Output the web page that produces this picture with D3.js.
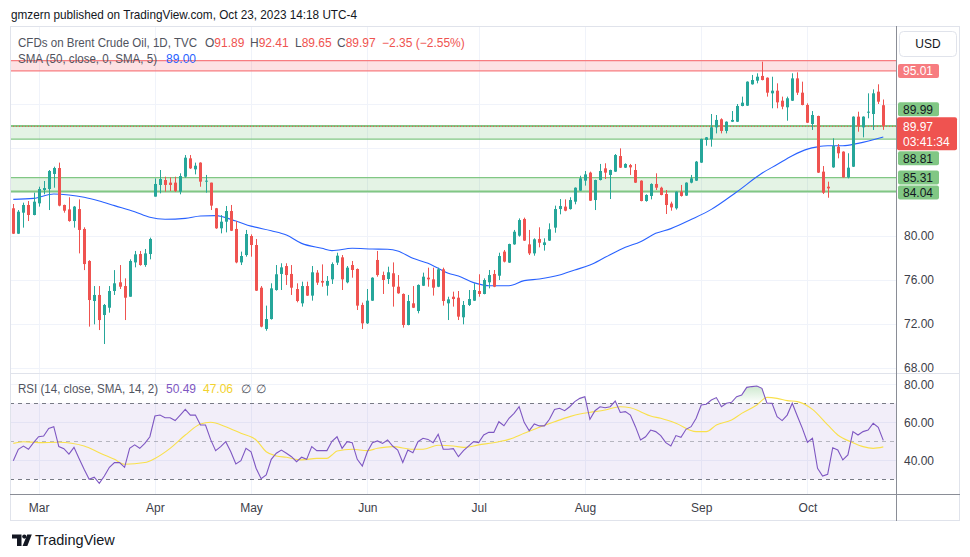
<!DOCTYPE html>
<html>
<head>
<meta charset="utf-8">
<script src="https://cdnjs.cloudflare.com/ajax/libs/d3/7.8.5/d3.min.js"></script>
<style>
  body { margin: 0; background: #fff; }
  svg { display: block; font-family: "Liberation Sans", Arial, sans-serif; }
</style>
</head>
<body>
<script>
// trading days on screen (2023), MM-DD
const dates = [
  "02-22","02-23","02-24","02-27","02-28",
  "03-01","03-02","03-03","03-06","03-07","03-08","03-09","03-10","03-13","03-14","03-15","03-16","03-17","03-20","03-21","03-22","03-23","03-24","03-27","03-28","03-29","03-30","03-31",
  "04-03","04-04","04-05","04-06","04-10","04-11","04-12","04-13","04-14","04-17","04-18","04-19","04-20","04-21","04-24","04-25","04-26","04-27","04-28",
  "05-01","05-02","05-03","05-04","05-05","05-08","05-09","05-10","05-11","05-12","05-15","05-16","05-17","05-18","05-19","05-22","05-23","05-24","05-25","05-26","05-29","05-30","05-31",
  "06-01","06-02","06-05","06-06","06-07","06-08","06-09","06-12","06-13","06-14","06-15","06-16","06-19","06-20","06-21","06-22","06-23","06-26","06-27","06-28","06-29","06-30",
  "07-03","07-04","07-05","07-06","07-07","07-10","07-11","07-12","07-13","07-14","07-17","07-18","07-19","07-20","07-21","07-24","07-25","07-26","07-27","07-28","07-31",
  "08-01","08-02","08-03","08-04","08-07","08-08","08-09","08-10","08-11","08-14","08-15","08-16","08-17","08-18","08-21","08-22","08-23","08-24","08-25","08-28","08-29","08-30","08-31",
  "09-01","09-04","09-05","09-06","09-07","09-08","09-11","09-12","09-13","09-14","09-15","09-18","09-19","09-20","09-21","09-22","09-25","09-26","09-27","09-28","09-29",
  "10-02","10-03","10-04","10-05","10-06","10-09","10-10","10-11","10-12","10-13","10-16","10-17","10-18","10-19","10-20","10-23"
];

const open = [
  82.52,80.21,82.12,82.82,81.91,
  82.97,84.18,84.27,85.64,86.18,82.82,82.42,81.36,82.45,80.64,77.73,74.09,74.64,72.82,73.48,75.00,75.79,75.45,74.48,77.60,78.36,77.36,78.36,
  83.58,84.64,85.09,84.85,84.85,84.03,85.39,87.06,86.06,86.67,84.94,84.85,82.52,80.70,81.30,82.27,80.64,77.60,78.27,
  80.00,79.18,75.30,71.55,72.45,75.09,76.55,77.27,76.55,75.18,73.88,75.45,74.58,76.67,75.91,75.48,76.06,77.58,78.06,75.79,77.36,77.00,73.73,
  72.06,74.12,77.82,76.45,76.09,76.61,75.39,74.73,71.91,73.88,73.18,75.48,76.21,76.06,75.39,76.97,73.88,74.48,74.39,72.61,73.73,74.12,
  75.00,74.73,75.79,76.55,76.39,78.58,77.58,79.24,80.03,81.55,79.24,78.42,79.73,79.18,79.58,80.76,82.45,82.67,82.45,83.12,84.12,
  85.03,85.76,83.27,85.09,86.15,85.55,85.85,87.27,86.21,86.45,86.00,85.03,83.18,83.64,84.73,84.39,83.82,82.95,82.52,84.03,83.67,84.85,85.03,
  86.67,88.73,88.79,89.88,90.61,89.55,90.39,90.39,91.82,91.85,93.79,94.12,94.55,94.39,92.97,93.21,92.30,91.70,92.30,94.33,93.03,
  91.91,90.18,90.91,85.85,84.48,86.24,88.12,87.67,85.33,86.30,90.85,89.88,91.21,91.09,93.12,91.89
];
const high = [
  82.91,82.36,83.03,83.18,83.94,
  84.48,85.00,86.00,86.30,86.67,82.85,83.52,82.73,83.33,80.79,77.80,75.45,75.45,73.82,75.45,76.90,77.36,76.15,77.88,78.64,78.64,78.82,79.85,
  85.24,86.00,85.39,85.33,85.39,85.70,87.36,87.36,86.67,86.70,85.55,84.85,82.55,81.90,82.73,82.82,81.36,78.58,80.55,
  80.15,79.73,75.45,73.67,75.70,77.36,77.52,77.52,77.36,75.70,75.85,75.85,77.27,76.90,77.42,76.36,77.60,78.48,78.27,77.27,77.73,77.05,73.94,
  75.18,76.25,78.64,76.76,77.21,77.60,76.45,74.78,74.64,75.45,75.60,76.67,77.12,77.12,77.12,77.12,74.48,74.94,75.00,74.09,75.09,75.70,
  76.52,76.15,76.91,76.91,78.48,78.73,79.30,80.55,81.60,81.67,80.55,79.79,80.79,79.79,81.15,82.76,83.36,83.33,83.52,84.42,85.48,
  85.91,85.85,85.12,86.55,86.61,86.03,87.45,87.97,86.61,86.55,86.55,85.06,83.79,84.79,85.70,84.48,84.18,83.12,84.06,84.64,84.88,85.55,86.82,
  88.85,89.00,91.09,91.00,90.70,90.42,91.36,92.00,92.67,94.06,94.64,94.79,95.85,94.42,94.48,93.88,92.67,92.67,94.79,94.88,94.03,
  92.06,91.36,90.94,86.36,84.94,88.88,88.36,87.70,87.52,90.88,91.30,90.88,92.97,93.33,93.79,92.41
];
const low = [
  80.18,80.18,80.76,81.36,81.88,
  82.67,83.79,82.36,84.39,82.70,82.12,81.30,80.76,78.42,76.90,71.76,71.97,71.45,70.18,73.03,74.64,75.18,72.36,74.48,77.15,77.30,77.20,77.88,
  83.58,83.88,84.03,84.09,84.00,83.79,85.30,86.10,85.60,84.48,83.94,82.36,80.65,80.24,80.33,80.45,77.52,77.36,78.12,
  78.12,75.00,71.70,71.39,72.40,75.03,75.09,75.55,74.64,73.97,73.58,74.55,74.12,75.55,75.39,74.58,75.64,77.36,75.09,75.70,76.21,73.27,71.55,
  72.00,74.10,76.30,74.73,75.64,73.58,74.75,71.67,71.88,73.45,72.97,75.45,75.39,74.58,75.35,73.67,72.36,73.58,72.36,71.97,73.64,74.10,
  74.48,74.70,75.24,75.35,76.00,77.60,77.55,79.20,79.94,79.55,78.27,78.21,78.97,78.67,79.55,80.30,81.97,82.25,82.40,82.88,84.10,
  84.58,83.18,82.36,85.05,85.18,83.36,85.82,86.18,86.18,85.55,84.82,83.15,83.12,83.33,84.18,83.70,82.00,82.30,82.40,83.58,83.64,84.79,85.00,
  86.64,88.21,88.12,89.33,89.33,89.33,90.36,90.36,91.79,91.82,93.76,93.88,94.15,92.67,91.61,91.61,91.52,90.48,92.27,92.82,91.88,
  90.27,89.64,85.73,83.82,83.48,86.20,87.06,85.30,85.24,86.27,89.48,88.97,90.70,89.64,92.00,89.65
];
const close = [
  80.21,82.21,82.82,81.91,83.12,
  84.27,84.36,85.91,86.18,82.76,82.30,81.36,82.67,80.55,77.45,74.18,74.64,72.36,73.73,75.00,75.70,75.39,74.39,77.73,78.33,77.36,78.42,79.73,
  84.73,85.18,84.64,84.64,84.09,85.45,87.12,86.15,86.39,84.94,85.03,82.76,80.70,81.30,82.27,80.48,77.60,78.18,80.18,
  79.18,75.03,71.76,72.45,75.24,76.52,77.15,76.45,75.30,74.09,75.45,74.58,76.70,75.76,75.76,75.91,77.45,78.21,76.06,77.12,76.91,73.67,72.06,
  74.12,76.21,76.45,76.00,76.70,75.39,74.79,71.91,74.09,73.48,75.55,76.30,76.06,75.30,76.97,74.09,74.24,74.27,72.67,73.73,74.27,75.09,
  74.73,76.00,76.45,75.39,78.18,77.67,79.27,80.39,81.45,79.58,78.42,79.70,79.39,79.42,80.61,82.45,82.73,82.30,83.27,84.39,85.24,
  85.60,83.21,85.09,85.91,85.76,86.00,87.36,86.21,86.55,86.24,84.85,83.18,83.73,84.73,84.39,83.73,82.82,82.60,84.03,83.64,84.85,85.24,86.76,
  88.82,88.97,89.88,90.55,89.55,90.39,90.55,91.82,92.12,94.03,94.18,94.48,94.18,93.03,93.21,92.15,91.76,92.52,94.33,93.03,91.91,
  90.30,91.00,85.76,83.94,84.33,88.18,87.52,85.33,86.21,90.85,90.00,90.85,91.30,92.97,92.21,89.97
];

// SMA 50: bar index -> value
const smaIdx = [0,4,8,11,14,17,20,24,27,30,34,37,40,44,47,51,54,57,61,63,67,71,74,76,79,82,84,86,88,91,94,98,101,104,108,111,114,117,121,124,127,130,134,138,143,148,151,154,157,159,161,164,167,172];
const smaVal = [83.33,83.42,83.82,83.73,83.52,83.18,82.76,82.21,81.70,81.52,81.60,81.82,81.85,81.36,80.90,80.48,80.09,79.33,78.88,78.67,78.88,78.82,78.79,78.64,77.97,77.52,77.06,76.61,76.36,75.76,75.48,75.48,75.94,76.09,76.45,76.91,77.36,78.06,78.97,79.48,80.24,80.67,81.50,82.42,84.00,85.70,86.50,87.30,87.90,88.10,88.20,88.20,88.42,89.00];

// RSI 14, one value per bar
const rsi = [
  39.8,45.8,47.5,45.8,49.3,52.4,52.8,56.8,57.7,47.2,46.1,43.3,46.8,41.0,35.3,30.0,31.1,27.9,31.7,36.3,
  38.8,38.8,36.3,46.3,48.1,46.3,48.9,52.4,63.3,63.8,62.4,62.4,60.9,63.8,66.8,63.8,63.8,58.6,58.6,51.0,
  45.1,47.2,49.8,44.5,38.1,39.8,46.3,44.5,35.8,30.3,32.3,40.5,43.7,45.4,43.7,41.9,39.3,41.6,40.5,47.2,
  45.1,45.1,45.1,50.0,52.4,46.3,49.8,49.3,40.5,37.0,44.5,49.3,50.2,48.9,50.7,47.5,45.4,38.8,45.4,44.0,
  49.8,51.6,51.0,49.3,53.7,45.8,45.8,46.1,41.9,45.1,47.5,49.8,49.3,53.3,54.7,54.7,60.3,58.2,62.1,64.7,
  68.2,60.0,55.6,59.1,58.1,58.1,61.6,66.8,67.4,66.1,68.2,70.9,72.6,73.5,61.6,66.1,68.2,67.7,68.2,71.2,
  65.2,65.6,63.8,57.7,50.7,52.4,55.9,55.1,53.0,49.3,47.5,53.0,52.1,56.3,57.7,62.1,69.1,69.5,71.7,73.0,
  68.2,70.0,70.5,73.5,74.4,78.4,78.8,79.1,77.9,70.0,70.0,63.0,60.9,63.8,70.0,63.3,56.8,49.5,51.6,35.8,
  31.7,32.6,46.6,45.4,40.2,42.8,55.1,53.3,55.1,55.9,59.5,57.4,50.49
];

// RSI-based SMA (yellow), read at these bars
const rsiMaIdx = [0,2,5,9,14,17,20,22,26,28,31,34,37,39,42,45,48,50,52,54,57,60,62,63,64,67,70,72,75,79,81,84,87,89,92,96,98,101,104,107,110,112,115,117,120,122,124,126,128,131,135,137,139,142,144,147,149,151,153,155,158,161,163,166,168,170,172];
const rsiMaVal = [48.9,49.8,49.3,49.5,47.5,44.0,40.5,37.9,38.8,41.0,46.3,53.3,59.1,60.0,57.7,54.2,50.7,44.5,42.3,41.6,40.2,41.0,41.0,42.8,44.9,45.8,45.1,46.3,47.2,45.8,45.8,47.9,47.5,46.8,48.1,49.8,51.0,54.2,57.4,60.3,63.0,64.4,65.6,66.5,68.2,67.7,65.6,63.3,62.1,59.5,55.1,55.1,58.6,61.2,64.7,69.1,73.1,72.6,71.4,70.9,66.8,58.6,53.3,49.3,47.2,46.3,47.06];

const priceTicks = [68, 72, 76, 80, 84, 88, 92];
const rsiTicks = [40, 60, 80];
const monthStarts = ["03-01","04-03","05-01","06-01","07-03","08-01","09-01","10-02"];
const monthNames = ["Mar","Apr","May","Jun","Jul","Aug","Sep","Oct"];

// drawn zones and their price labels
const zoneLo = [95.01, 88.81, 84.04];
const zoneHi = [95.94, 89.99, 85.31];
const zoneRed = [true, false, false];
const levelVals = [95.01, 89.99, 88.81, 85.31, 84.04];
const lastPrice = 89.97;

// ---- layout
const L = 10, R = 896, AX = 960;
const mainTop = 27, mainBot = 373, rsiBot = 494, frameBot = 521;
const upCol = "#26A69A", dnCol = "#EF5350";

let svg = d3.select("body").append("svg")
  .attr("width", 970)
  .attr("height", 557);

let x = d3.scalePoint().domain(dates).range([13.3, 883.3]);
let y = d3.scaleLinear().domain([68, 96]).range([368, 60]);
let yr = d3.scaleLinear().domain([40, 80]).range([460.3, 384.3]);

let defs = svg.append("defs");
defs.append("clipPath").attr("id", "mainClip")
  .append("rect").attr("x", L).attr("y", mainTop).attr("width", R - L).attr("height", mainBot - mainTop);
defs.append("clipPath").attr("id", "rsiClip")
  .append("rect").attr("x", L).attr("y", mainBot + 1).attr("width", R - L).attr("height", rsiBot - mainBot - 1);
let grad = defs.append("linearGradient").attr("id", "obFill")
  .attr("gradientUnits", "userSpaceOnUse")
  .attr("x1", 0).attr("x2", 0).attr("y1", yr(88)).attr("y2", yr(70));
grad.append("stop").attr("offset", 0).attr("stop-color", "#4CAF50").attr("stop-opacity", 0.55);
grad.append("stop").attr("offset", 1).attr("stop-color", "#4CAF50").attr("stop-opacity", 0);

// ---- grid
svg.append("g")
  .selectAll("line").data(monthStarts).enter().append("line")
    .attr("x1", d => Math.round(x(d)) + 0.5).attr("x2", d => Math.round(x(d)) + 0.5)
    .attr("y1", mainTop).attr("y2", rsiBot)
    .attr("stroke", "#F0F3FA");
svg.append("g")
  .selectAll("line").data(priceTicks.concat([96])).enter().append("line")
    .attr("x1", L).attr("x2", R)
    .attr("y1", d => Math.round(y(d)) + 0.5).attr("y2", d => Math.round(y(d)) + 0.5)
    .attr("stroke", "#F0F3FA");
svg.append("g")
  .selectAll("line").data(rsiTicks).enter().append("line")
    .attr("x1", L).attr("x2", R)
    .attr("y1", d => Math.round(yr(d)) + 0.5).attr("y2", d => Math.round(yr(d)) + 0.5)
    .attr("stroke", "#F0F3FA");

// ---- main pane
let main = svg.append("g").attr("clip-path", "url(#mainClip)");

zoneLo.forEach(function(lo, k) {
  let hi = zoneHi[k];
  let fill = zoneRed[k] ? "rgba(242,54,69,0.15)" : "rgba(76,175,80,0.15)";
  let edge = zoneRed[k] ? "#F77C80" : "#81C784";
  main.append("rect")
    .attr("x", L).attr("width", R - L)
    .attr("y", y(hi)).attr("height", y(lo) - y(hi))
    .attr("fill", fill);
  [lo, hi].forEach(function(v) {
    main.append("line")
      .attr("x1", L).attr("x2", R).attr("y1", y(v)).attr("y2", y(v))
      .attr("stroke", edge).attr("stroke-width", (v == 89.99 || v == 84.04) ? 2 : 1.3);
  });
});

// current price line
main.append("line")
  .attr("x1", L).attr("x2", R).attr("y1", y(lastPrice)).attr("y2", y(lastPrice))
  .attr("stroke", dnCol).attr("stroke-dasharray", "1 2");

// sma 50
main.append("path")
  .datum(smaIdx)
  .attr("fill", "none")
  .attr("stroke", "#2962FF")
  .attr("stroke-width", 1.1)
  .attr("d", d3.line()
    .x(i => x(dates[i]))
    .y((i, k) => y(smaVal[k]))
    .curve(d3.curveMonotoneX));

// candles
let bars = main.append("g")
  .selectAll("g").data(dates).enter().append("g")
    .attr("fill", (d, i) => close[i] >= open[i] ? upCol : dnCol)
    .attr("stroke", (d, i) => close[i] >= open[i] ? upCol : dnCol);
bars.append("line")
  .attr("x1", d => Math.round(x(d)) + 0.5).attr("x2", d => Math.round(x(d)) + 0.5)
  .attr("y1", (d, i) => y(high[i])).attr("y2", (d, i) => y(low[i]));
bars.append("rect")
  .attr("stroke", "none")
  .attr("x", d => Math.round(x(d)) - 1)
  .attr("width", 3)
  .attr("y", (d, i) => y(Math.max(open[i], close[i])))
  .attr("height", (d, i) => Math.max(1, Math.abs(y(open[i]) - y(close[i]))));

// ---- rsi pane
let rp = svg.append("g").attr("clip-path", "url(#rsiClip)");
rp.append("rect")
  .attr("x", L).attr("width", R - L)
  .attr("y", yr(70)).attr("height", yr(30) - yr(70))
  .attr("fill", "rgba(126,87,194,0.1)");
[70, 50, 30].forEach(function(v) {
  rp.append("line")
    .attr("x1", L).attr("x2", R).attr("y1", Math.round(yr(v)) + 0.5).attr("y2", Math.round(yr(v)) + 0.5)
    .attr("stroke", "#787B86").attr("stroke-opacity", v == 50 ? 0.5 : 1)
    .attr("stroke-dasharray", "4 4");
});
rp.append("path")
  .datum(rsi)
  .attr("fill", "url(#obFill)")
  .attr("d", d3.area()
    .x((v, i) => x(dates[i]))
    .y0(yr(70))
    .y1(v => yr(Math.max(v, 70))));
rp.append("path")
  .datum(rsiMaIdx)
  .attr("fill", "none")
  .attr("stroke", "#F9E04B")
  .attr("stroke-width", 1.1)
  .attr("d", d3.line()
    .x(i => x(dates[i]))
    .y((i, k) => yr(rsiMaVal[k]))
    .curve(d3.curveMonotoneX));
rp.append("path")
  .datum(rsi)
  .attr("fill", "none")
  .attr("stroke", "#7E57C2")
  .attr("stroke-width", 1.1)
  .attr("d", d3.line()
    .x((v, i) => x(dates[i]))
    .y(v => yr(v)));

// ---- frame
svg.append("rect")
  .attr("x", L + 0.5).attr("y", mainTop - 0.5)
  .attr("width", AX - L - 1).attr("height", frameBot - mainTop)
  .attr("fill", "none").attr("stroke", "#E0E3EB");
svg.append("line")
  .attr("x1", L).attr("x2", AX).attr("y1", mainBot + 0.5).attr("y2", mainBot + 0.5)
  .attr("stroke", "#E0E3EB");
svg.append("line")
  .attr("x1", L).attr("x2", AX).attr("y1", rsiBot + 0.5).attr("y2", rsiBot + 0.5)
  .attr("stroke", "#8A8D96");
svg.append("line")
  .attr("x1", R + 0.5).attr("x2", R + 0.5).attr("y1", mainTop - 1).attr("y2", frameBot)
  .attr("stroke", "#8A8D96");

// ---- price labels on the scale (pushed apart round the last price box)
let curY = y(lastPrice);
let curTop = curY - 9, curBot = curY + 24;
let placed = [];
levelVals.forEach(function(v) {
  let cy = y(v);
  if (cy + 7 > curTop && cy - 7 < curBot) {
    cy = v > lastPrice ? curTop - 8 : curBot + 8;
  }
  if (placed.length && v < lastPrice) {
    let prev = placed[placed.length - 1];
    if (prev.cy + 7 + 1 > cy - 7 && prev.v < lastPrice) cy = prev.cy + 15;
  }
  placed.push({v: v, cy: cy});
});
let boxes = placed.map(p => [p.cy - 7, p.cy + 7]).concat([[curTop, curBot]]);
let hidden = v => boxes.some(b => y(v) > b[0] - 6 && y(v) < b[1] + 6);

// ---- axes
let styleAxis = function(g) {
  g.select(".domain").remove();
  g.selectAll("text").attr("fill", "#3D4049").style("font-size", "12px")
    .style("font-family", "'Liberation Sans', Arial, sans-serif");
};
svg.append("g")
  .attr("transform", "translate(" + R + ",0)")
  .call(d3.axisRight(y).tickValues(priceTicks.filter(v => !hidden(v)))
    .tickFormat(d3.format(".2f")).tickSize(0).tickPadding(8))
  .call(styleAxis);
svg.append("g")
  .attr("transform", "translate(" + R + ",0)")
  .call(d3.axisRight(yr).tickValues(rsiTicks).tickFormat(d3.format(".2f")).tickSize(0).tickPadding(8))
  .call(styleAxis);
svg.append("g")
  .attr("transform", "translate(0," + rsiBot + ")")
  .call(d3.axisBottom(x).tickValues(monthStarts).tickFormat((d, i) => monthNames[i]).tickSize(0).tickPadding(9))
  .call(styleAxis);

let lab = svg.append("g").style("font-size", "12px");
placed.forEach(function(p) {
  let red = p.v == 95.01;
  lab.append("rect")
    .attr("x", 898).attr("y", p.cy - 7).attr("width", 41).attr("height", 14).attr("rx", 2)
    .attr("fill", red ? "#F77C80" : "#81C784");
  lab.append("text")
    .attr("x", 903).attr("y", p.cy).attr("dy", "0.36em")
    .attr("fill", red ? "#fff" : "#131722")
    .text(p.v.toFixed(2));
});
lab.append("rect")
  .attr("x", 897).attr("y", curTop).attr("width", 60).attr("height", curBot - curTop).attr("rx", 2)
  .attr("fill", dnCol);
lab.append("text")
  .attr("x", 903).attr("y", curY).attr("dy", "0.36em").attr("fill", "#fff")
  .text(lastPrice.toFixed(2));
lab.append("text")
  .attr("x", 903).attr("y", curY + 15).attr("dy", "0.36em").attr("fill", "#fff")
  .text("03:41:34");

// USD button
svg.append("rect")
  .attr("x", 899.5).attr("y", 31.5).attr("width", 57).attr("height", 25).attr("rx", 4)
  .attr("fill", "#fff").attr("stroke", "#E0E3EB");
svg.append("text")
  .attr("x", 928).attr("y", 44).attr("dy", "0.36em")
  .attr("text-anchor", "middle").style("font-size", "12px").attr("fill", "#131722")
  .text("USD");

// ---- legends
let txt = function(xp, yp, s, col, size, len) {
  let t = svg.append("text")
    .attr("x", xp).attr("y", yp).attr("dy", "0.36em")
    .style("font-size", (size || 12) + "px")
    .attr("fill", col)
    .text(s);
  if (len) t.attr("textLength", len).attr("lengthAdjust", "spacingAndGlyphs");
  return t;
};
// letter in gray followed by the value in colour, as one text
let pair = function(xp, yp, letter, val, col) {
  let t = svg.append("text")
    .attr("x", xp).attr("y", yp).attr("dy", "0.36em")
    .style("font-size", "12px");
  t.append("tspan").attr("fill", gray).text(letter);
  t.append("tspan").attr("fill", col).text(val);
};
txt(11, 14, "gmzern published on TradingView.com, Oct 23, 2023 14:18 UTC-4", "#131722", 13, 346);

let gray = "#50535E";
txt(18, 43, "CFDs on Brent Crude Oil, 1D, TVC", gray, 12, 179);
pair(205, 43, "O", "91.89", dnCol);
pair(250, 43, "H", "92.41", dnCol);
pair(295, 43, "L", "89.65", dnCol);
pair(337, 43, "C", "89.97", dnCol);
txt(382, 43, "\u22122.35 (\u22122.55%)", dnCol);

txt(18, 59, "SMA (50, close, 0, SMA, 5)", gray, 12, 139);
txt(166, 59, "89.00", "#2962FF");

txt(18, 389, "RSI (14, close, SMA, 14, 2)", gray, 12, 140);
txt(166, 389, "50.49", "#7E57C2");
txt(203, 389, "47.06", "#F2D22E");
txt(241, 389, "\u2205", gray);
txt(256, 389, "\u2205", gray);

// ---- tradingview mark
let logo = svg.append("g").attr("fill", "#131722");
logo.append("path").attr("d", "M12,534.5 H21.5 V546 H17 V538.5 H12 Z");
logo.append("circle").attr("cx", 24.3).attr("cy", 536.6).attr("r", 2.1);
logo.append("path").attr("d", "M27.2,534.5 H31.8 L27.3,546 H22.6 Z");
txt(35, 540, "TradingView", "#131722", 14.5);
</script>
</body>
</html>
